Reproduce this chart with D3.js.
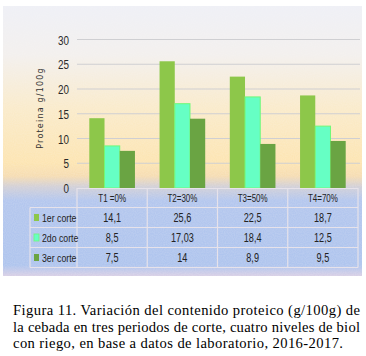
<!DOCTYPE html>
<html><head><meta charset="utf-8">
<script src="https://cdn.jsdelivr.net/npm/d3@7"></script>
<style>
html,body{margin:0;padding:0;background:#fff;}
svg{display:block;}
</style></head>
<body>
<script>
const categories = ["T1 =0%", "T2=30%", "T3=50%", "T4=70%"];
const seriesNames = ["1er corte", "2do corte", "3er corte"];
const corte1 = [14.1, 25.6, 22.5, 18.7];
const corte2 = [8.5, 17.03, 18.4, 12.5];
const corte3 = [7.5, 14, 8.9, 9.5];
const labels1 = ["14,1", "25,6", "22,5", "18,7"];
const labels2 = ["8,5", "17,03", "18,4", "12,5"];
const labels3 = ["7,5", "14", "8,9", "9,5"];
const yTicks = [0, 5, 10, 15, 20, 25, 30];
const yTitle = "Proteina g/100g";
const captionLines = [
  "Figura 11. Variación del contenido proteico (g/100g) de",
  "la cebada en tres periodos de corte, cuatro niveles de biol",
  "con riego, en base a datos de laboratorio, 2016-2017."
];

const series = [
  {name: seriesNames[0], values: corte1, labels: labels1, color: "#8DC74A", stroke: "#8DC74A"},
  {name: seriesNames[1], values: corte2, labels: labels2, color: "#66FFC4", stroke: "#70F878"},
  {name: seriesNames[2], values: corte3, labels: labels3, color: "#6AA443", stroke: "#6AA443"}
];

const W = 366, H = 356;
const svg = d3.select("body").append("svg").attr("width", W).attr("height", H);

const defs = svg.append("defs");
const grad = defs.append("linearGradient").attr("id", "bg").attr("x1", 0).attr("y1", 0).attr("x2", 0).attr("y2", 1);
[[0, "#EFF0F6"], [0.18, "#F3F0EE"], [0.38, "#FAEBCB"], [0.58, "#FDE5B2"], [0.63, "#F6DDB3"], [0.67, "#D2D0D8"], [0.72, "#B4C7EE"], [0.96, "#AFC5EE"], [1, "#D9D0E6"]]
  .forEach(([o, c]) => grad.append("stop").attr("offset", o).attr("stop-color", c));

const filt = defs.append("filter").attr("id", "noise").attr("x", 0).attr("y", 0).attr("width", 1).attr("height", 1);
filt.append("feTurbulence").attr("type", "fractalNoise").attr("baseFrequency", 0.9).attr("numOctaves", 1).attr("seed", 3).attr("result", "n");
filt.append("feColorMatrix").attr("in", "n").attr("type", "matrix")
  .attr("values", "0 0 0 0 1  0 0 0 0 1  0 0 0 0 1  0 0 0 0.35 -0.1").attr("result", "w");
filt.append("feComposite").attr("in", "w").attr("in2", "SourceGraphic").attr("operator", "atop");

svg.append("rect").attr("x", 3).attr("y", 6).attr("width", 359).attr("height", 270).attr("fill", "url(#bg)");
svg.append("rect").attr("x", 3).attr("y", 6).attr("width", 359).attr("height", 270).attr("fill", "url(#bg)").attr("filter", "url(#noise)").attr("opacity", 0.6);

const x0 = 77, x1 = 358;
const x = d3.scaleBand().domain(categories).range([x0, x1]).paddingInner(0).paddingOuter(0);
const xs = d3.scaleBand().domain(seriesNames).range([12.3, x.bandwidth() - 12.3]).padding(0);
const y = d3.scaleLinear().domain([0, 30]).range([188, 39.5]);

// gridlines
svg.append("g").selectAll("line").data(yTicks.filter(t => t > 0)).join("line")
  .attr("x1", x0).attr("x2", 360).attr("y1", d => y(d)).attr("y2", d => y(d))
  .attr("stroke", "#CFCFD2").attr("stroke-width", 1.2);

const font = "'Liberation Sans',Arial,sans-serif";
const SX = 0.76;

// y axis labels
const yAxis = d3.axisLeft(y).tickValues(yTicks).tickSize(0).tickPadding(0);
const ga = svg.append("g").attr("transform", "translate(69,0)").call(yAxis);
ga.select(".domain").remove();
ga.selectAll("text").attr("font-family", font).attr("font-size", 13).attr("fill", "#2a2a2a")
  .attr("dy", "0.36em").attr("x", 0).attr("transform", `scale(${SX},1)`);

// y title
svg.append("text").attr("transform", "translate(43,108) rotate(-90)")
  .attr("text-anchor", "middle").attr("font-family", "'DejaVu Sans',sans-serif").attr("font-size", 8)
  .attr("letter-spacing", 1.2).attr("fill", "#333").text(yTitle);

// bars
const gb = svg.append("g");
series.forEach(s => {
  gb.append("g").selectAll("rect").data(categories.map((c, i) => ({c, v: s.values[i]}))).join("rect")
    .attr("x", d => x(d.c) + xs(s.name))
    .attr("width", xs.bandwidth())
    .attr("y", d => y(d.v))
    .attr("height", d => y(0) - y(d.v))
    .attr("fill", s.color)
    .attr("stroke", s.stroke).attr("stroke-width", s.name === seriesNames[1] ? 1 : 0);
});

// table
const rowTop = 188, headH = 19.5, rowH = 20, labelX = 30;
const tcol = "#E6E2EA";
const gt = svg.append("g");
const nRows = series.length;
const tableBottom = rowTop + headH + nRows * rowH;
gt.append("line").attr("x1", x0).attr("x2", x1).attr("y1", rowTop + 0.5).attr("y2", rowTop + 0.5).attr("stroke", tcol);
for (let r = 0; r <= nRows; r++) {
  const yy = rowTop + headH + r * rowH;
  gt.append("line").attr("x1", labelX).attr("x2", x1).attr("y1", yy).attr("y2", yy).attr("stroke", tcol).attr("stroke-width", 1.2);
}
gt.append("line").attr("x1", labelX).attr("x2", labelX).attr("y1", rowTop + headH).attr("y2", tableBottom).attr("stroke", tcol).attr("stroke-width", 1.2);
categories.forEach(c => {
  gt.append("line").attr("x1", x(c)).attr("x2", x(c)).attr("y1", rowTop).attr("y2", tableBottom).attr("stroke", tcol).attr("stroke-width", 1.2);
});
gt.append("line").attr("x1", x1).attr("x2", x1).attr("y1", rowTop).attr("y2", tableBottom).attr("stroke", tcol).attr("stroke-width", 1.2);

function txt(g, cx, cy, s, size, anchor) {
  return g.append("text").attr("transform", `translate(${cx},${cy}) scale(${SX},1)`)
    .attr("text-anchor", anchor).attr("font-family", font).attr("font-size", size).attr("fill", "#222").text(s);
}

categories.forEach(c => txt(gt, x(c) + x.bandwidth() / 2, rowTop + 14, c, 10.5, "middle"));

series.forEach((s, r) => {
  const cy = rowTop + headH + r * rowH + rowH / 2;
  gt.append("rect").attr("x", 34).attr("y", cy - 3.5).attr("width", 5).attr("height", 7).attr("fill", s.color)
    .attr("stroke", s.stroke).attr("stroke-width", r === 1 ? 0.8 : 0);
  txt(gt, 42, cy + 4, s.name, 11.5, "start");
  categories.forEach((c, i) => txt(gt, x(c) + x.bandwidth() / 2, cy + 4, s.labels[i], 12, "middle"));
});

// caption
const cap = svg.append("g");
const capLen = [347, 347, 330];
captionLines.forEach((t, i) => {
  cap.append("text").attr("x", 13).attr("y", 315 + i * 16.5)
    .attr("font-family", "'Liberation Serif','Times New Roman',serif").attr("font-size", 14.6).attr("fill", "#000")
    .attr("textLength", capLen[i]).attr("lengthAdjust", "spacing").text(t);
});
</script>
</body></html>
